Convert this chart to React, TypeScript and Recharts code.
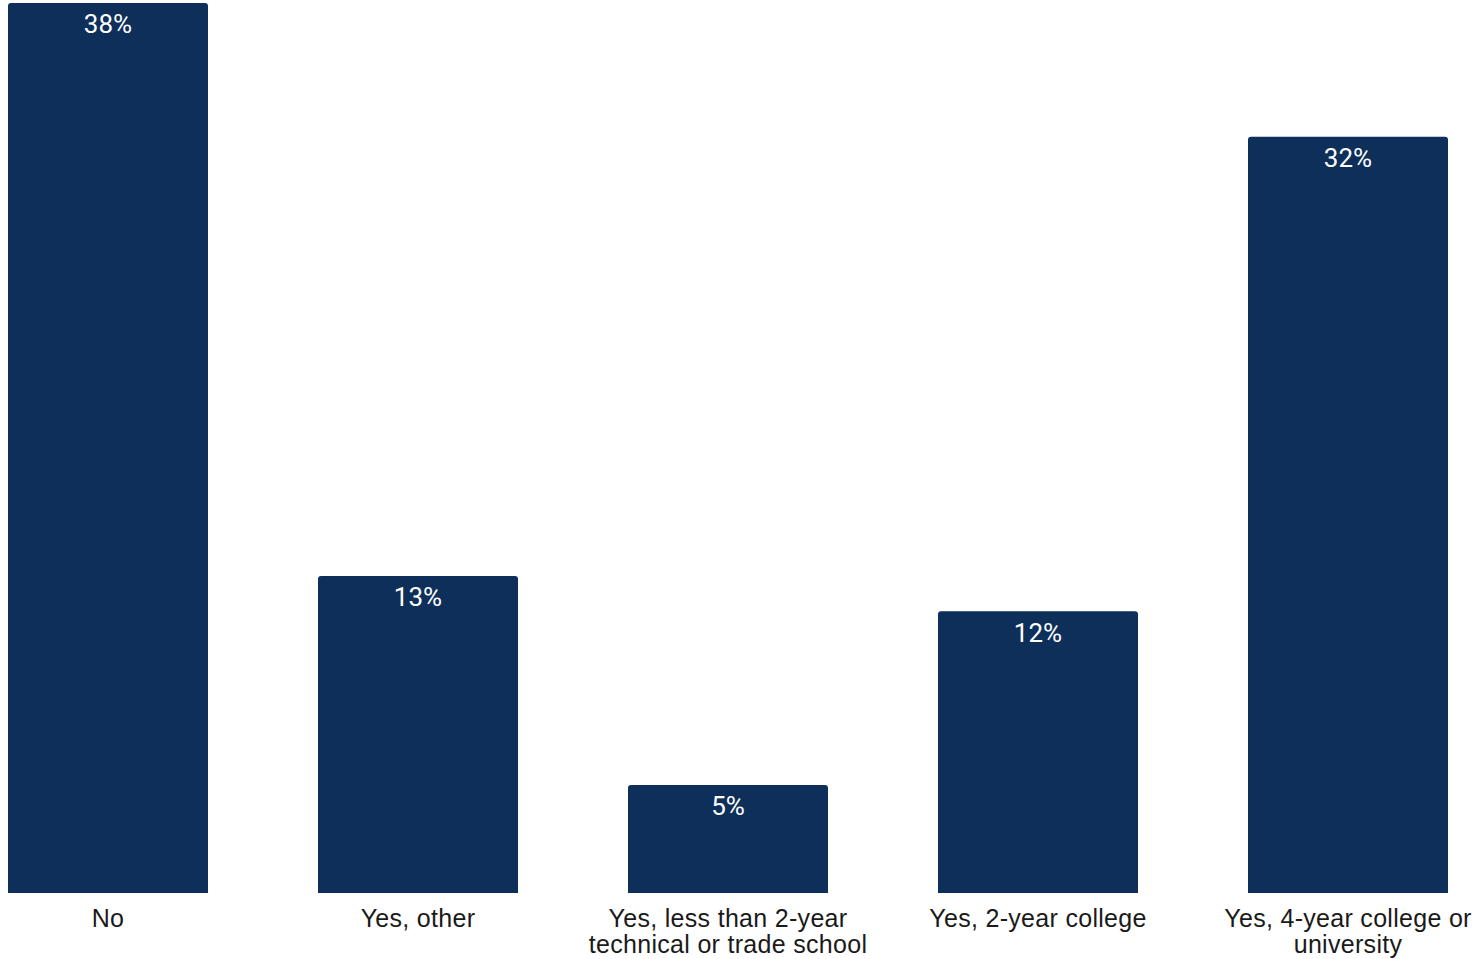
import React from "react";
import { BarChart, Bar, XAxis, YAxis, LabelList } from "recharts";

const categories = [
  "No",
  "Yes, other",
  "Yes, less than 2-year\ntechnical or trade school",
  "Yes, 2-year college",
  "Yes, 4-year college or\nuniversity",
];
const values = [37.9, 13.5, 4.6, 12.0, 32.2];
const valueLabels = ["38%", "13%", "5%", "12%", "32%"];

const data = categories.map((c, i) => ({ name: c, value: values[i], label: valueLabels[i] }));

const CategoryTick = (props: any) => {
  const { x, y, payload } = props;
  const lines = String(payload.value).split("\n");
  return (
    <g transform={`translate(${x},${y})`}>
      {lines.map((line: string, i: number) => (
        <text
          key={i}
          x={0}
          y={26 + i * 26}
          textAnchor="middle"
          fill="#1a1a1a"
          fontFamily="'Liberation Sans', Arial, sans-serif"
          fontSize={25}
          letterSpacing={0.3}
        >
          {line}
        </text>
      ))}
    </g>
  );
};

export default function App() {
  return (
    <div
      style={{
        position: "fixed",
        top: 0,
        left: 0,
        width: 1479,
        height: 959,
        overflow: "hidden",
        background: "#ffffff",
      }}
    >
      <div style={{ position: "absolute", left: -47, top: 3 }}>
        <BarChart
          width={1550}
          height={956}
          data={data}
          margin={{ top: 0, right: 0, left: 0, bottom: 0 }}
          style={{ overflow: "visible" }}
        >
          <XAxis
            dataKey="name"
            axisLine={false}
            tickLine={false}
            interval={0}
            height={66}
            tick={<CategoryTick />}
          />
          <YAxis hide domain={[0, 37.9]} />
          <Bar
            dataKey="value"
            fill="#0d2f5a"
            barSize={200}
            radius={[3, 3, 0, 0]}
            isAnimationActive={false}
          >
            <LabelList
              dataKey="label"
              position="insideTop"
              offset={12}
              fill="#ffffff"
              fontSize={26}
              fontFamily="Roboto, sans-serif"
            />
          </Bar>
        </BarChart>
      </div>
    </div>
  );
}
